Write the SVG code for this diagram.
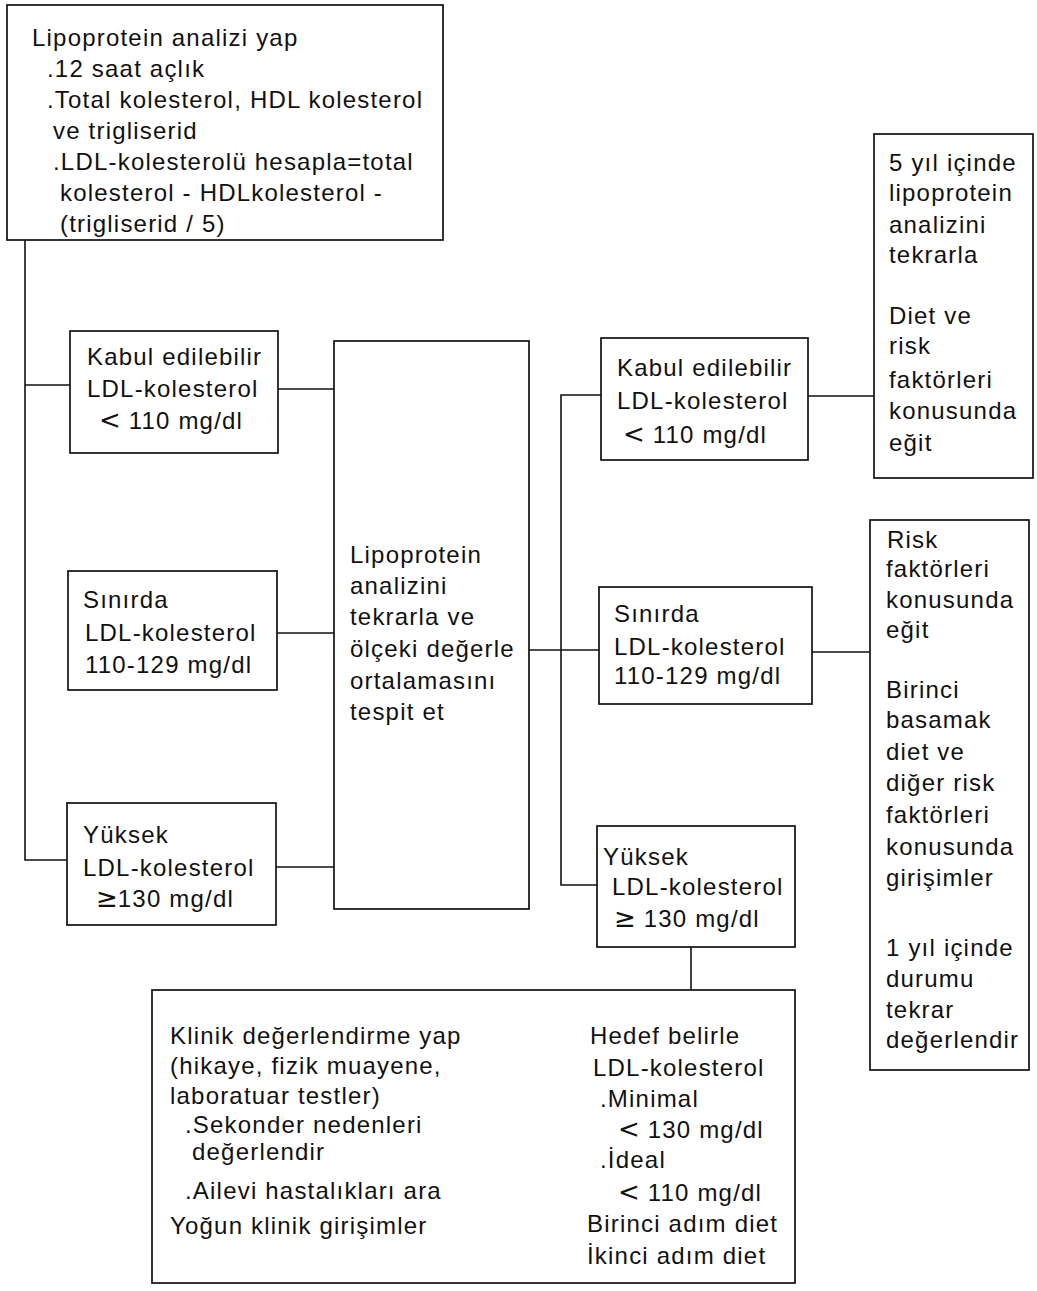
<svg xmlns="http://www.w3.org/2000/svg" width="1037" height="1291" viewBox="0 0 1037 1291">
<style>
.box{fill:#fff;stroke:#111;stroke-width:1.7}
.ln{fill:none;stroke:#111;stroke-width:1.6}
text{font-family:"Liberation Sans",Arial,sans-serif;font-size:24px;letter-spacing:1.2px;fill:#111}
.m{font-family:"DejaVu Sans",sans-serif;font-size:26px;letter-spacing:0}
</style>
<rect width="1037" height="1291" fill="#fff"/>
<g id="connectors">
<polyline class="ln" points="25,240 25,860 67,860"/>
<line class="ln" x1="25" y1="385" x2="70" y2="385"/>
<line class="ln" x1="278" y1="389" x2="334" y2="389"/>
<line class="ln" x1="277" y1="633" x2="334" y2="633"/>
<line class="ln" x1="276" y1="867" x2="334" y2="867"/>
<line class="ln" x1="529" y1="650" x2="599" y2="650"/>
<polyline class="ln" points="601,395 561,395 561,885 597,885"/>
<line class="ln" x1="808" y1="396" x2="874" y2="396"/>
<line class="ln" x1="812" y1="652" x2="870" y2="652"/>
<line class="ln" x1="691" y1="947" x2="691" y2="990"/>
</g>
<g id="n-top">
<rect class="box" x="7" y="5" width="436" height="235"/>
<text x="32" y="46">Lipoprotein analizi yap</text>
<text x="47" y="77">.12 saat açlık</text>
<text x="47" y="108">.Total kolesterol, HDL kolesterol</text>
<text x="53" y="139">ve trigliserid</text>
<text x="53" y="170">.LDL-kolesterolü hesapla=total</text>
<text x="60" y="201">kolesterol - HDLkolesterol -</text>
<text x="60" y="232">(trigliserid / 5)</text>
</g>
<g id="n-l1">
<rect class="box" x="70" y="331" width="208" height="122"/>
<text x="87" y="365">Kabul edilebilir</text>
<text x="87" y="397">LDL-kolesterol</text>
<text x="99" y="429"><tspan class="m">&lt;</tspan> 110 mg/dl</text>
</g>
<g id="n-l2">
<rect class="box" x="68" y="571" width="209" height="119"/>
<text x="83" y="608">Sınırda</text>
<text x="85" y="641">LDL-kolesterol</text>
<text x="85" y="673">110-129 mg/dl</text>
</g>
<g id="n-l3">
<rect class="box" x="67" y="803" width="209" height="122"/>
<text x="83" y="843">Yüksek</text>
<text x="83" y="876">LDL-kolesterol</text>
<text x="96" y="907"><tspan class="m">≥</tspan>130 mg/dl</text>
</g>
<g id="n-center">
<rect class="box" x="334" y="341" width="195" height="568"/>
<text x="350" y="563">Lipoprotein</text>
<text x="350" y="594">analizini</text>
<text x="350" y="625">tekrarla ve</text>
<text x="350" y="657">ölçeki değerle</text>
<text x="350" y="689">ortalamasını</text>
<text x="350" y="720">tespit et</text>
</g>
<g id="n-r1">
<rect class="box" x="601" y="338" width="207" height="122"/>
<text x="617" y="376">Kabul edilebilir</text>
<text x="617" y="409">LDL-kolesterol</text>
<text x="623" y="443"><tspan class="m">&lt;</tspan>  110 mg/dl</text>
</g>
<g id="n-r2">
<rect class="box" x="599" y="587" width="213" height="117"/>
<text x="614" y="622">Sınırda</text>
<text x="614" y="655">LDL-kolesterol</text>
<text x="614" y="684">110-129 mg/dl</text>
</g>
<g id="n-r3">
<rect class="box" x="597" y="826" width="198" height="121"/>
<text x="603" y="865">Yüksek</text>
<text x="612" y="895">LDL-kolesterol</text>
<text x="614" y="927"><tspan class="m">≥</tspan>  130 mg/dl</text>
</g>
<g id="n-rb1">
<rect class="box" x="874" y="134" width="159" height="344"/>
<text x="889" y="171">5 yıl içinde</text>
<text x="889" y="201">lipoprotein</text>
<text x="889" y="233">analizini</text>
<text x="889" y="263">tekrarla</text>
<text x="889" y="324">Diet ve</text>
<text x="889" y="354">risk</text>
<text x="889" y="388">faktörleri</text>
<text x="889" y="419">konusunda</text>
<text x="889" y="451">eğit</text>
</g>
<g id="n-rb2">
<rect class="box" x="870" y="520" width="159" height="550"/>
<text x="887" y="548">Risk</text>
<text x="886" y="577">faktörleri</text>
<text x="886" y="608">konusunda</text>
<text x="886" y="638">eğit</text>
<text x="886" y="698">Birinci</text>
<text x="886" y="728">basamak</text>
<text x="886" y="760">diet ve</text>
<text x="886" y="791">diğer risk</text>
<text x="886" y="823">faktörleri</text>
<text x="886" y="855">konusunda</text>
<text x="886" y="886">girişimler</text>
<text x="886" y="956">1 yıl içinde</text>
<text x="886" y="987">durumu</text>
<text x="886" y="1018">tekrar</text>
<text x="886" y="1048">değerlendir</text>
</g>
<g id="n-bottom">
<rect class="box" x="152" y="990" width="643" height="293"/>
<text x="170" y="1044">Klinik değerlendirme yap</text>
<text x="170" y="1074">(hikaye, fizik muayene,</text>
<text x="170" y="1104">laboratuar testler)</text>
<text x="185" y="1133">.Sekonder nedenleri</text>
<text x="192" y="1160">değerlendir</text>
<text x="185" y="1199">.Ailevi hastalıkları ara</text>
<text x="170" y="1234">Yoğun klinik girişimler</text>
<text x="590" y="1044">Hedef belirle</text>
<text x="593" y="1076">LDL-kolesterol</text>
<text x="600" y="1107">.Minimal</text>
<text x="618" y="1138"><tspan class="m">&lt;</tspan>  130 mg/dl</text>
<text x="600" y="1168">.İdeal</text>
<text x="618" y="1201"><tspan class="m">&lt;</tspan>  110 mg/dl</text>
<text x="587" y="1232">Birinci adım diet</text>
<text x="587" y="1264">İkinci adım diet</text>
</g>
</svg>
